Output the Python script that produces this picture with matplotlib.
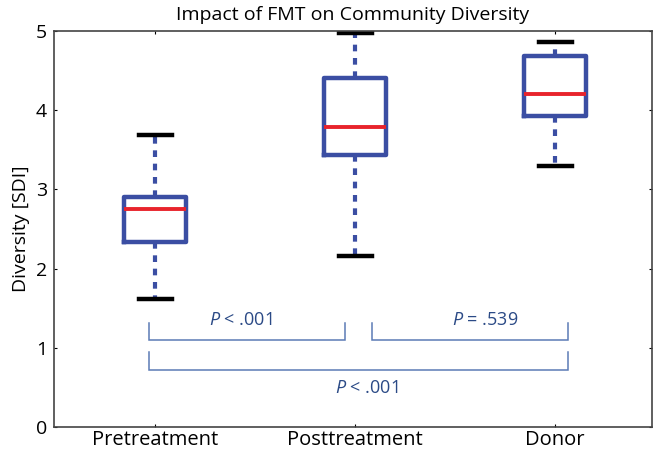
import matplotlib
matplotlib.use("Agg")
import matplotlib.pyplot as plt

plt.rcParams["font.family"] = ["Open Sans", "DejaVu Sans"]
plt.rcParams["mathtext.fontset"] = "custom"
plt.rcParams["mathtext.it"] = "Open Sans:italic"
plt.rcParams["mathtext.rm"] = "Open Sans"

GROUPS = ["Pretreatment", "Posttreatment", "Donor"]
WHIS_LO = [1.62, 2.16, 3.30]
Q1 = [2.34, 3.43, 3.93]
MEDIAN = [2.75, 3.79, 4.21]
Q3 = [2.90, 4.41, 4.68]
WHIS_HI = [3.69, 4.98, 4.86]

# pairwise comparisons: (left group, right group, label)
COMPARISONS = [(1, 2, "< .001"), (2, 3, "= .539"), (1, 3, "< .001")]

BLUE = "#3b4ea3"
BRACKET = "#5b7bb5"
TEXT_BLUE = "#2b4a86"

stats = []
for i, name in enumerate(GROUPS):
    stats.append({"label": name, "whislo": WHIS_LO[i], "q1": Q1[i], "med": MEDIAN[i],
                  "q3": Q3[i], "whishi": WHIS_HI[i], "fliers": []})

fig = plt.figure(figsize=(6.56, 4.53), dpi=100)
ax = fig.add_axes([54 / 656, 1 - 427 / 453, 598 / 656, 396 / 453])

ax.bxp(stats, positions=[1, 2, 3], widths=0.31, capwidths=0.165, showfliers=False,
       boxprops=dict(color=BLUE, linewidth=3.2),
       whiskerprops=dict(color=BLUE, linewidth=3.0, linestyle=(0, (1.6, 1.6))),
       capprops=dict(color="black", linewidth=3.2),
       medianprops=dict(color="#e8242c", linewidth=2.8))

# significance brackets
def bracket(x0, x1, y_top, y_bot):
    ax.plot([x0, x0, x1, x1], [y_top, y_bot, y_bot, y_top], color=BRACKET, lw=1.1,
            solid_joinstyle="miter")

bracket(0.97, 1.95, 1.31, 1.10)
bracket(2.085, 3.065, 1.31, 1.10)
bracket(0.97, 3.065, 0.95, 0.72)

ax.text(1.43, 1.35, f"$P$ {COMPARISONS[0][2]}", ha="center", va="center", fontsize=13, color=TEXT_BLUE)
ax.text(2.65, 1.35, f"$P$ {COMPARISONS[1][2]}", ha="center", va="center", fontsize=13, color=TEXT_BLUE)
ax.text(2.06, 0.49, f"$P$ {COMPARISONS[2][2]}", ha="center", va="center", fontsize=13, color=TEXT_BLUE)

ax.set_xlim(0.495, 3.485)
ax.set_ylim(0, 5)
ax.set_yticks([0, 1, 2, 3, 4, 5])
ax.set_xticks([1, 2, 3])
ax.set_xticklabels(GROUPS, fontsize=14.5)
ax.tick_params(axis="y", labelsize=14, direction="in", length=2, right=True, pad=5)
ax.tick_params(axis="x", direction="in", length=2, top=True, pad=2)
for s in ax.spines.values():
    s.set_color("#444444")
    s.set_linewidth(1.2)
ax.set_ylabel("Diversity [SDI]", fontsize=14, labelpad=4)
ax.set_title("Impact of FMT on Community Diversity", fontsize=14, pad=0, y=1.028)

fig.savefig("out.png", dpi=100)
